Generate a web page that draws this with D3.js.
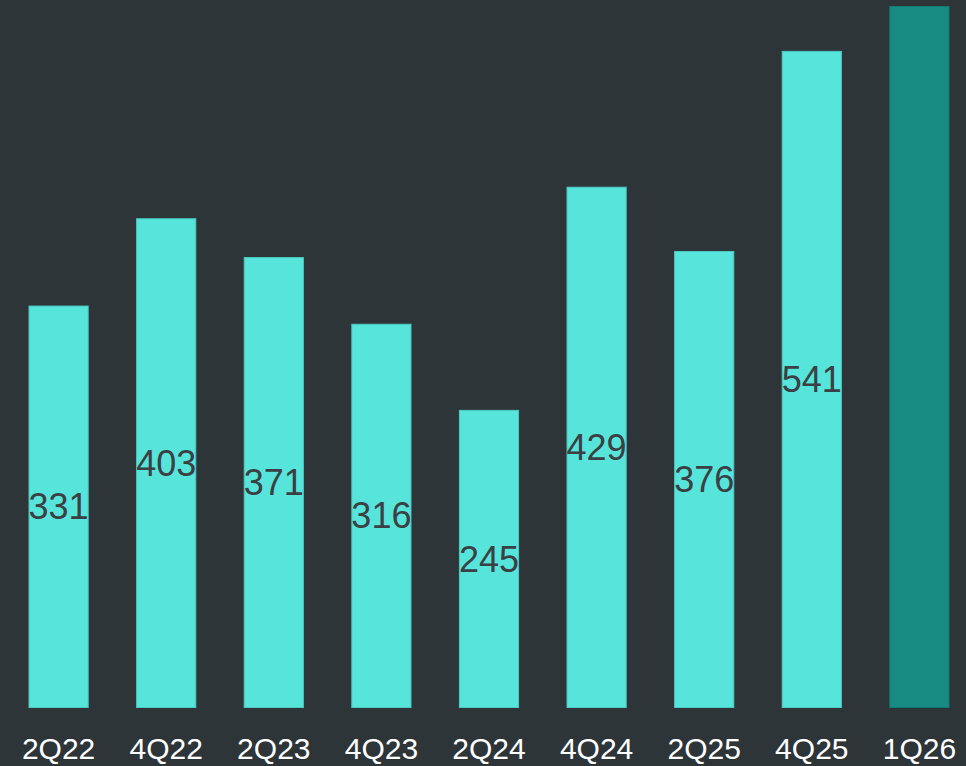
<!DOCTYPE html>
<html>
<head>
<meta charset="utf-8">
<script src="https://cdn.jsdelivr.net/npm/d3@7"></script>
<style>
  html, body { margin: 0; padding: 0; background: #2e3539; overflow: hidden; }
  svg { display: block; }
</style>
</head>
<body>
<svg id="chart" width="966" height="766"></svg>
<script>
// quarters and values
const quarters = ["2Q22", "4Q22", "2Q23", "4Q23", "2Q24", "4Q24", "2Q25", "4Q25", "1Q26"];
const values = [331, 403, 371, 316, 245, 429, 376, 541, 578];
// the last bar has no label shown
const labels = ["331", "403", "371", "316", "245", "429", "376", "541", null];

const data = quarters.map((q, i) => ({ q: q, v: values[i], label: labels[i], last: i === quarters.length - 1 }));

const svg = d3.select("#chart");

const x = d3.scaleBand()
  .domain(quarters)
  .range([4.8, 973.2])
  .paddingInner(0.45)
  .paddingOuter(0.225);

const y = d3.scaleLinear()
  .domain([0, 578])
  .range([707.5, 6.5]);

svg.selectAll(".bar")
  .data(data)
  .enter()
  .append("rect")
  .attr("class", "bar")
  .attr("x", d => x(d.q))
  .attr("y", d => y(d.v))
  .attr("width", x.bandwidth())
  .attr("height", d => y(0) - y(d.v))
  .attr("fill", d => d.last ? "#188b82" : "#57e4da")
  .attr("stroke", d => d.last ? "#137a72" : "#4cc9c1")
  .attr("stroke-width", 1);

svg.selectAll(".val")
  .data(data.filter(d => d.label))
  .enter()
  .append("text")
  .attr("class", "val")
  .attr("x", d => x(d.q) + x.bandwidth() / 2)
  .attr("y", d => (y(d.v) + y(0)) / 2)
  .attr("dy", "0.35em")
  .attr("text-anchor", "middle")
  .style("font-family", "'Liberation Sans', Arial, sans-serif")
  .style("font-size", "36px")
  .style("fill", "#3a4043")
  .text(d => d.label);

const xAxis = svg.append("g")
  .attr("transform", "translate(0,707)")
  .call(d3.axisBottom(x).tickSize(0).tickPadding(0));

xAxis.select(".domain").remove();
xAxis.selectAll("text")
  .attr("y", 52)
  .attr("dy", 0)
  .style("font-family", "'Liberation Sans', Arial, sans-serif")
  .style("font-size", "30px")
  .style("fill", "#ffffff");
</script>
</body>
</html>
